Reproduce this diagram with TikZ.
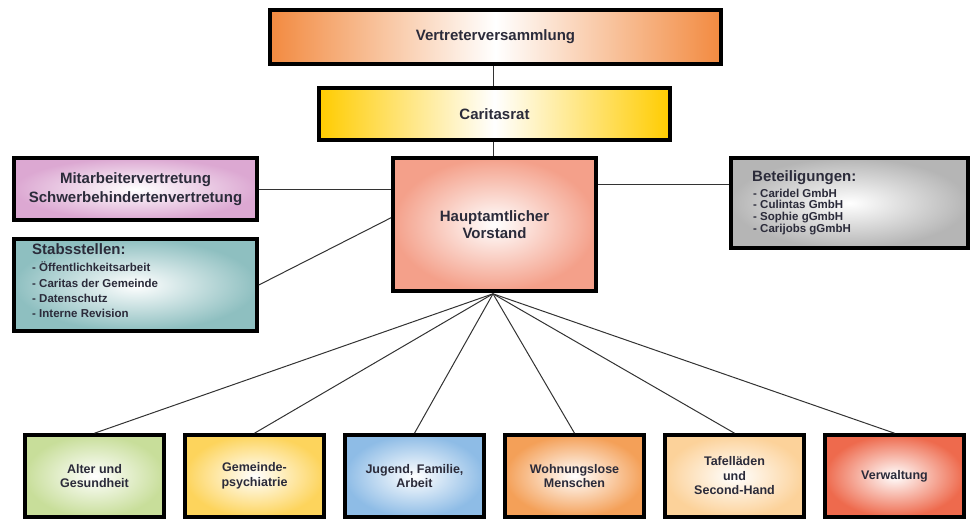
\documentclass[tikz,border=0pt]{standalone}
\usepackage{fontspec}
\setmainfont{Liberation Sans}
\usetikzlibrary{calc}
\definecolor{txt}{HTML}{2B2B3A}
\definecolor{cVV}{HTML}{F28A40}
\definecolor{cCR}{HTML}{FFCC00}
\definecolor{cMA}{HTML}{DCA8D2}
\definecolor{cST}{HTML}{8EBFC0}
\definecolor{cHV}{HTML}{F4A08A}
\definecolor{cBT}{HTML}{B5B5B5}
\definecolor{cD1}{HTML}{C8DE9A}
\definecolor{cD2}{HTML}{FDD45C}
\definecolor{cD3}{HTML}{8EBCE6}
\definecolor{cD4}{HTML}{F4A058}
\definecolor{cD5}{HTML}{FCD29A}
\definecolor{cD6}{HTML}{EE6A4D}
\tikzset{
  box/.style={draw=black, line width=3.6pt, inner sep=0pt, align=center,
    text=txt, font=\bfseries\fontsize{15}{17}\selectfont},
  hgrad/.style={left color=#1, right color=#1, middle color=white},
  rgrad/.style={inner color=white, outer color=#1},
  dept/.style={box, rgrad=#1, minimum width=139pt, minimum height=82pt,
    font=\bfseries\fontsize{12.5}{14.5}\selectfont},
  conn/.style={draw=black!80, line width=1pt},
  listhead/.style={anchor=west, inner sep=0pt, text=txt, text height=0.7em, text depth=0.2em,
    font=\bfseries\fontsize{15}{17}\selectfont},
  listitem/.style={anchor=west, inner sep=0pt, text=txt, text height=0.7em, text depth=0.2em,
    font=\bfseries\fontsize{11.5}{13}\selectfont}
}
\begin{document}
\begin{tikzpicture}[x=1pt, y=-1pt]
\useasboundingbox (0,0) rectangle (972,519);

% top governance boxes
\node[box, hgrad=cVV, minimum width=451pt, minimum height=54pt] (vv) at (495.5,37) {Vertreterversammlung};
\node[box, hgrad=cCR, minimum width=351pt, minimum height=52pt] (cr) at (494.5,114) {Caritasrat};
\node[box, rgrad=cHV, minimum width=203pt, minimum height=133pt] (hv) at (494.5,224.5) {Hauptamtlicher\\Vorstand};

% side boxes
\node[box, rgrad=cMA, minimum width=243pt, minimum height=62pt,
  font=\bfseries\fontsize{15}{18.5}\selectfont] (ma) at (135.5,189) {Mitarbeitervertretung\\Schwerbehindertenvertretung};
\node[box, rgrad=cST, minimum width=243pt, minimum height=92pt] (st) at (135.5,285) {};
\node[box, rgrad=cBT, minimum width=237pt, minimum height=90pt] (bt) at (849.5,203) {};

% Stabsstellen list
\node[listhead] (st-h) at (32,251.5) {Stabsstellen:};
\foreach \y/\t [count=\i] in {269/{- Öffentlichkeitsarbeit}, 284.5/{- Caritas der Gemeinde}, 299.5/{- Datenschutz}, 315/{- Interne Revision}}
  \node[listitem] (st-\i) at (32,\y) {\t};

% Beteiligungen list
\node[listhead] (bt-h) at (752,179) {Beteiligungen:};
\foreach \y/\t [count=\i] in {194.5/{- Caridel GmbH}, 206/{- Culintas GmbH}, 217.5/{- Sophie gGmbH}, 229.5/{- Carijobs gGmbH}}
  \node[listitem] (bt-\i) at (753,\y) {\t};

% departments
\node[dept=cD1] (d1) at (94.5,476) {Alter und\\Gesundheit};
\node[dept=cD2] (d2) at (254.5,476) {Gemeinde-\\psychiatrie};
\node[dept=cD3] (d3) at (414.5,476) {Jugend, Familie,\\Arbeit};
\node[dept=cD4] (d4) at (574.5,476) {Wohnungslose\\Menschen};
\node[dept=cD5] (d5) at (734.5,476) {Tafelläden\\und\\Second-Hand};
\node[dept=cD6] (d6) at (894.5,476) {Verwaltung};

% connectors
\coordinate (hvtop) at ($(hv.north)+(-1.5,0)$);
\draw[conn] (vv.south -| hvtop) -- (cr.north -| hvtop);
\draw[conn] (cr.south -| hvtop) -- (hvtop);
\draw[conn] (ma.east) -- (ma.east -| hv.west);
\coordinate (btline) at ($(bt.north west)!0.3!(bt.south west)$);
\draw[conn] (btline) -- (btline -| hv.east);
\coordinate (stline) at ($(hv.north west)!0.45!(hv.south west)$);
\draw[conn] (st.east) -- (stline);
\coordinate (hvbot) at ($(hv.south)+(-1.5,1)$);
\foreach \i in {1,...,6}
  \draw[conn] (hvbot) -- (d\i.north);
\end{tikzpicture}
\end{document}
